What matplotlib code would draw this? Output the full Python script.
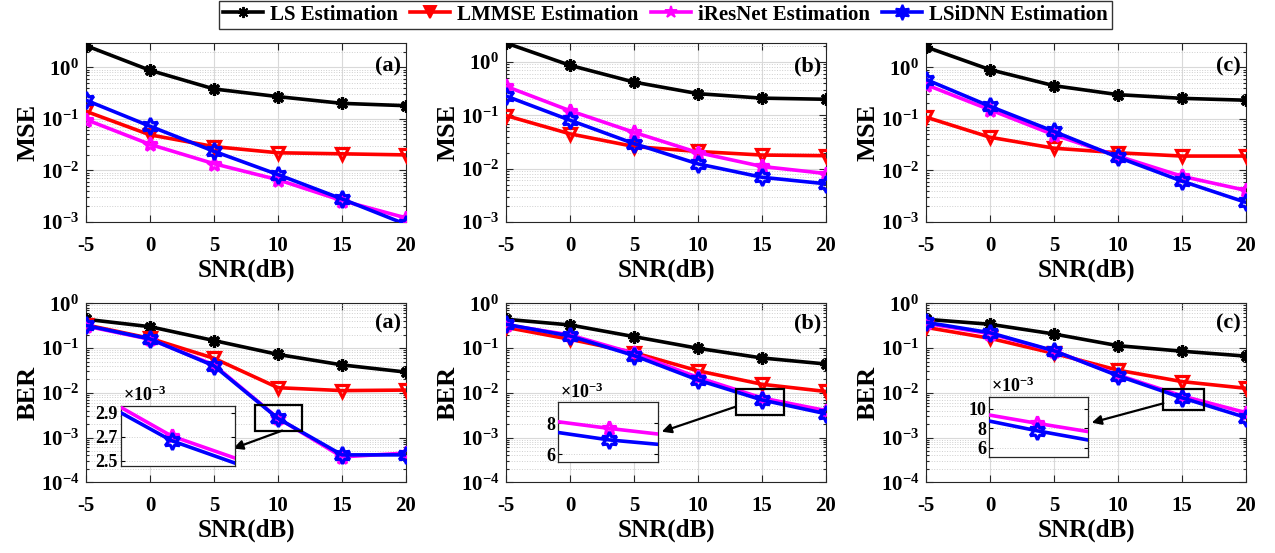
import numpy as np
import matplotlib
matplotlib.use('Agg')
import matplotlib.pyplot as plt
from matplotlib.patches import Rectangle
from matplotlib.ticker import LogLocator, NullFormatter
from matplotlib.lines import Line2D

# ---------------- data ----------------
snr = [-5, 0, 5, 10, 15, 20]
methods = ['LS Estimation', 'LMMSE Estimation', 'iResNet Estimation', 'LSiDNN Estimation']
panel_tags = ['(a)', '(b)', '(c)']

mse_a_ls = [2.63, 0.875, 0.38, 0.27, 0.20, 0.18]
mse_a_lmmse = [0.14, 0.049, 0.029, 0.022, 0.021, 0.020]
mse_a_iresnet = [0.097, 0.032, 0.0135, 0.0066, 0.0026, 0.0012]
mse_a_lsidnn = [0.23, 0.072, 0.0235, 0.0083, 0.0028, 0.0009]

mse_b_ls = [2.27, 0.866, 0.42, 0.255, 0.21, 0.20]
mse_b_lmmse = [0.099, 0.045, 0.026, 0.021, 0.018, 0.0175]
mse_b_iresnet = [0.35, 0.122, 0.048, 0.020, 0.011, 0.0081]
mse_b_lsidnn = [0.23, 0.081, 0.0295, 0.0123, 0.0069, 0.0052]

mse_c_ls = [2.48, 0.90, 0.44, 0.295, 0.25, 0.23]
mse_c_lmmse = [0.108, 0.044, 0.027, 0.022, 0.019, 0.019]
mse_c_iresnet = [0.46, 0.15, 0.049, 0.019, 0.0077, 0.0041]
mse_c_lsidnn = [0.58, 0.175, 0.057, 0.018, 0.0062, 0.0024]

ber_a_ls = [0.44, 0.30, 0.147, 0.072, 0.042, 0.029]
ber_a_lmmse = [0.33, 0.165, 0.059, 0.013, 0.0112, 0.0115]
ber_a_iresnet = [0.31, 0.157, 0.042, 0.002706, 0.00037, 0.00045]
ber_a_lsidnn = [0.32, 0.16, 0.040, 0.002667, 0.00041, 0.00041]

ber_b_ls = [0.44, 0.328, 0.18, 0.0987, 0.060, 0.044]
ber_b_lmmse = [0.29, 0.157, 0.079, 0.031, 0.0155, 0.0107]
ber_b_iresnet = [0.33, 0.196, 0.076, 0.022, 0.00767, 0.0040]
ber_b_lsidnn = [0.34, 0.186, 0.068, 0.0193, 0.00692, 0.0034]

ber_c_ls = [0.44, 0.34, 0.206, 0.113, 0.085, 0.066]
ber_c_lmmse = [0.29, 0.165, 0.076, 0.032, 0.0178, 0.0126]
ber_c_iresnet = [0.357, 0.21, 0.086, 0.025, 0.00852, 0.0036]
ber_c_lsidnn = [0.376, 0.22, 0.087, 0.024, 0.00775, 0.0028]

# zoomed insets (iResNet, LSiDNN), in units of 1e-3
inset_a_snr = [8.4, 10, 12.0]
inset_a_iresnet = [2.945, 2.706, 2.522]
inset_a_lsidnn = [2.90, 2.667, 2.48]
inset_a_yticks = [2.5, 2.7, 2.9]

inset_b_snr = [13.1, 15, 16.85]
inset_b_iresnet = [8.10, 7.67, 7.30]
inset_b_lsidnn = [7.40, 6.92, 6.63]
inset_b_yticks = [6, 8]

inset_c_snr = [13.5, 15, 16.6]
inset_c_iresnet = [9.38, 8.52, 7.66]
inset_c_lsidnn = [8.76, 7.75, 6.79]
inset_c_yticks = [6, 8, 10]

# ---------------- style ----------------
plt.rcParams.update({
    'font.family': ['Liberation Serif', 'DejaVu Serif'],
    'font.weight': 'bold',
    'axes.labelweight': 'bold',
    'mathtext.fontset': 'custom',
    'mathtext.rm': 'Liberation Serif:bold',
    'mathtext.it': 'Liberation Serif:bold:italic',
    'mathtext.bf': 'Liberation Serif:bold',
    'mathtext.default': 'rm',
    'axes.unicode_minus': False,
})

colors = ['black', '#FF0000', '#FF00FF', '#0000FF']
markers = [(8, 2, 0), 'v', '*', (6, 1, 0)]
msizes = [9, 9, 10, 12]

W, H = 1275, 553
fig = plt.figure(figsize=(W / 100, H / 100), dpi=100)

def px_axes(l, t, r, b):
    return fig.add_axes([l / W, 1 - b / H, (r - l) / W, (b - t) / H])

col_left = [86, 506, 926]
ax_w = 320

mse_sets = [
    [mse_a_ls, mse_a_lmmse, mse_a_iresnet, mse_a_lsidnn],
    [mse_b_ls, mse_b_lmmse, mse_b_iresnet, mse_b_lsidnn],
    [mse_c_ls, mse_c_lmmse, mse_c_iresnet, mse_c_lsidnn],
]
ber_sets = [
    [ber_a_ls, ber_a_lmmse, ber_a_iresnet, ber_a_lsidnn],
    [ber_b_ls, ber_b_lmmse, ber_b_iresnet, ber_b_lsidnn],
    [ber_c_ls, ber_c_lmmse, ber_c_iresnet, ber_c_lsidnn],
]
mse_top = [2.96, 2.27, 2.96]

def style_axes(ax):
    ax.set_xlim(-5, 20)
    ax.set_xticks(snr)
    ax.set_xticklabels([str(v) for v in snr])
    ax.tick_params(which='both', direction='in', top=True, right=True,
                   labelsize=15, width=0.8, colors='#262626')
    ax.tick_params(which='major', length=5)
    ax.tick_params(which='minor', length=2.5)
    ax.tick_params(axis='x', pad=10)
    ax.tick_params(axis='y', pad=5)
    for lab in ax.get_xticklabels() + ax.get_yticklabels():
        lab.set_color('black')
        lab.set_fontweight('bold')
    ax.yaxis.set_major_locator(LogLocator(base=10, numticks=10))
    ax.yaxis.set_minor_locator(LogLocator(base=10, subs=np.arange(2, 10), numticks=20))
    ax.yaxis.set_minor_formatter(NullFormatter())
    ax.grid(True, which='major', color='#d9d9d9', linewidth=0.8, linestyle='-')
    ax.grid(True, which='minor', axis='y', color='#cfcfcf', linewidth=0.7, linestyle=':')
    ax.set_axisbelow(True)
    for s in ax.spines.values():
        s.set_color('#262626')
        s.set_linewidth(0.8)

def draw_series(ax, sets):
    for i, vals in enumerate(sets):
        ax.plot(snr, vals, color=colors[i], linewidth=2.6, marker=markers[i],
                markersize=msizes[i], markerfacecolor='none',
                markeredgecolor=colors[i], markeredgewidth=2.3, zorder=3 + i)

# top row (MSE)
for c in range(3):
    ax = px_axes(col_left[c], 43, col_left[c] + ax_w, 222)
    ax.set_yscale('log')
    draw_series(ax, mse_sets[c])
    ax.set_ylim(1e-3, mse_top[c])
    style_axes(ax)
    ax.set_ylabel('MSE', fontsize=19, fontweight='bold', labelpad=1)
    ax.set_xlabel('SNR(dB)', fontsize=18, fontweight='bold', labelpad=2)
    ax.text(0.985, 0.87, panel_tags[c], transform=ax.transAxes, ha='right',
            va='center', fontsize=16, fontweight='bold', zorder=10)

# bottom row (BER)
inset_rects = [(120.7, 405.7, 235, 466), (558.3, 402.3, 658.3, 462.3), (989, 396.7, 1088.3, 456.7)]
inset_snrs = [inset_a_snr, inset_b_snr, inset_c_snr]
inset_ires = [inset_a_iresnet, inset_b_iresnet, inset_c_iresnet]
inset_lsid = [inset_a_lsidnn, inset_b_lsidnn, inset_c_lsidnn]
inset_ylims = [(2.456, 2.958), (5.46, 9.37), (5.07, 11.27)]
inset_yticks = [inset_a_yticks, inset_b_yticks, inset_c_yticks]
# zoom boxes on main axes: (x0, x1, y0, y1)
zoom_boxes = [(8.2, 11.9, 0.00143, 0.0053), (12.95, 16.68, 0.0032, 0.0122), (13.55, 16.68, 0.00413, 0.0122)]
arrow_from = [(10.33, 0.00143), (12.95, 0.0049), (13.55, 0.00582)]
arrow_to = [(0.985, 0.29), (1.034, 0.51), (1.034, 0.567)]

for c in range(3):
    ax = px_axes(col_left[c], 303.3, col_left[c] + ax_w, 482.3)
    ax.set_yscale('log')
    draw_series(ax, ber_sets[c])
    ax.set_ylim(1e-4, 1)
    style_axes(ax)
    ax.set_ylabel('BER', fontsize=19, fontweight='bold', labelpad=1)
    ax.set_xlabel('SNR(dB)', fontsize=18, fontweight='bold', labelpad=2)
    ax.text(0.985, 0.89, panel_tags[c], transform=ax.transAxes, ha='right',
            va='center', fontsize=16, fontweight='bold', zorder=10)
    x0, x1, y0, y1 = zoom_boxes[c]
    ax.add_patch(Rectangle((x0, y0), x1 - x0, y1 - y0, fill=False,
                           edgecolor='black', linewidth=1.6, zorder=12))

    l, t, r, b = inset_rects[c]
    ins = px_axes(l, t, r, b)
    ys = [inset_ires[c], inset_lsid[c]]
    for k, (vals, ci) in enumerate(zip(ys, [2, 3])):
        ins.plot(inset_snrs[c], vals, color=colors[ci], linewidth=2.6,
                 marker=markers[ci], markersize=msizes[ci], markevery=[1],
                 markerfacecolor='none', markeredgecolor=colors[ci],
                 markeredgewidth=2.3, zorder=3 + k)
    ins.set_xlim(inset_snrs[c][0], inset_snrs[c][-1])
    ins.set_ylim(*inset_ylims[c])
    ins.set_yticks(inset_yticks[c])
    ins.set_yticklabels([('%g' % v) if c else ('%.1f' % v) for v in inset_yticks[c]])
    ins.set_xticks([])
    ins.tick_params(which='both', direction='in', right=True, labelsize=13, pad=2,
                    length=3, width=0.8)
    for lab in ins.get_yticklabels():
        lab.set_fontweight('bold')
    ins.text(0.02, 1.01, r'$\times\mathregular{10^{-3}}$', transform=ins.transAxes,
             ha='left', va='bottom', fontsize=13)
    ins.grid(True, axis='y', color='#d0d0d0', linewidth=0.7, linestyle=':')
    for s in ins.spines.values():
        s.set_color('#262626')
        s.set_linewidth(0.9)
    ins.set_zorder(20)
    ins.set_facecolor('white')

    ax.annotate('', xy=arrow_to[c], xycoords=ins.transAxes,
                xytext=arrow_from[c], textcoords='data',
                arrowprops=dict(arrowstyle='-|>', color='black', lw=1.6,
                                mutation_scale=14, shrinkA=0, shrinkB=0),
                zorder=25, annotation_clip=False)

# legend
handles = [Line2D([0], [0], color=colors[i], linewidth=2.6, marker=markers[i],
                  markersize=msizes[i] - 1, markerfacecolor=colors[i],
                  markeredgecolor=colors[i], markeredgewidth=1.4)
           for i in range(4)]
leg = fig.legend(handles, methods, loc='upper center',
                 bbox_to_anchor=(665.5 / W, 1 - 0.5 / H), ncol=4,
                 frameon=True, fancybox=False, edgecolor='black',
                 fontsize=15, handlelength=1.9, handletextpad=0.35,
                 columnspacing=0.6, borderpad=0.2, borderaxespad=0)
leg.get_frame().set_linewidth(1.0)
for t in leg.get_texts():
    t.set_fontweight('bold')

fig.savefig('out.png', dpi=100)
